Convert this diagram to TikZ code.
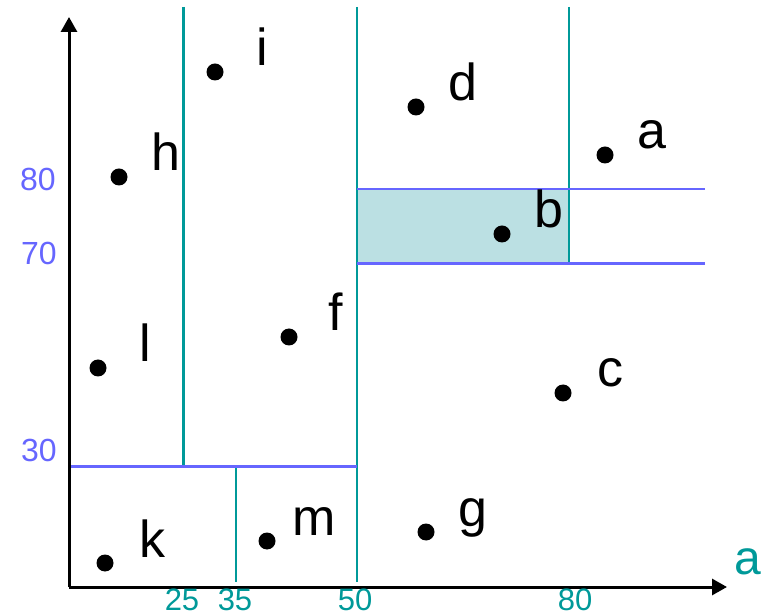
\documentclass[tikz,border=0pt]{standalone}
\usepackage{fontspec}
\setmainfont{Liberation Sans}
\usetikzlibrary{arrows.meta,positioning,calc}
\definecolor{CorteX}{RGB}{0,153,153}
\definecolor{CorteY}{RGB}{102,102,255}
\definecolor{RegiaoPale}{RGB}{187,224,227}
\tikzset{
  ponto/.style={circle, fill=black, inner sep=0pt, minimum size=8.5pt},
  rotulo/.style={font=\fontsize{26}{30}\selectfont, inner sep=0pt, anchor=base},
  eixo/.style={line width=1.5pt, -{Triangle[length=7.5pt,width=8pt]}},
  cortex/.style={CorteX, line width=1pt},
  cortey/.style={CorteY, line width=1.5pt},
  marcax/.style={text=CorteX, font=\fontsize{15.5}{19}\selectfont, inner sep=0pt, anchor=north},
  marcay/.style={text=CorteY, font=\fontsize{16}{19}\selectfont, inner sep=0pt, anchor=east},
}
\begin{document}
\begin{tikzpicture}[x=0.5pt, y=-0.5pt]
  \useasboundingbox (0,0) rectangle (764,613);

  % região consultada
  \fill[RegiaoPale] (357,189) rectangle (569,264);

  % cortes verticais
  \draw[cortex, line width=1.5pt] (183,7) -- (183,467);
  \draw[cortex] (236,467) -- (236,582);
  \draw[cortex] (357,7) -- (357,582);
  \draw[cortex] (569,7) -- (569,264);

  % cortes horizontais
  \draw[cortey] (69,467) -- (357,467);
  \draw[cortey, line width=1pt] (357,189) -- (705,189);
  \draw[cortey] (357,264) -- (705,264);

  % eixos
  \coordinate (O) at (69,587);
  \coordinate (xmax) at (727,587);
  \coordinate (ymax) at (69,17);
  \draw[eixo] (O) -- (xmax);
  \draw[eixo] (O) -- (ymax);
  \node[text=CorteX, font=\fontsize{24}{28}\selectfont, inner sep=0pt] (nomex) at (748,562) {a};

  % marcas
  \node[marcax] (m25) at (182,588) {25};
  \node[marcax] (m35) at (235,588) {35};
  \node[marcax] (m50) at (355,588) {50};
  \node[marcax] (m80) at (575,588) {80};
  \node[marcay] (n80) at (56,179) {80};
  \node[marcay] (n70) at (57,253) {70};
  \node[marcay] (n30) at (57,450) {30};

  % pontos
  \foreach \n/\x/\y in {i/215/72, d/416/107, a/605/155, h/119/177, b/502/234, f/289/337,
                        l/98/368, c/563/393, k/105/563, m/267/541, g/426/532}{
    \node[ponto] (\n) at (\x,\y) {};
    \node[rotulo] (r\n) at ([shift={(47,-6)}]\n.center) {\n};
  }
\end{tikzpicture}
\end{document}
